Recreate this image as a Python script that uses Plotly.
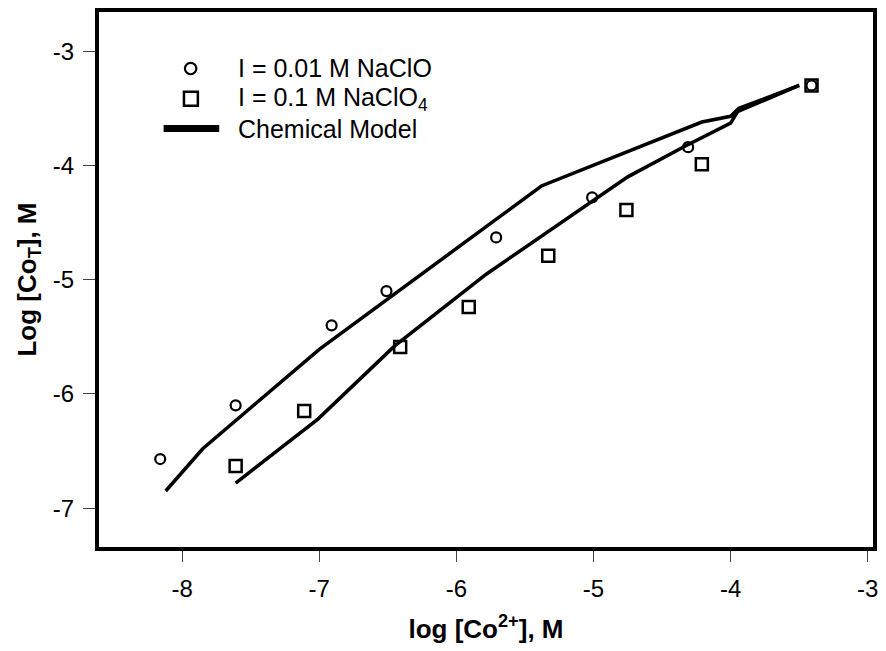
import plotly.graph_objects as go

# ---- data ----
x_i001 = [-8.16, -7.61, -6.91, -6.51, -5.71, -5.01, -4.31, -3.41]
y_i001 = [-6.57, -6.10, -5.40, -5.10, -4.63, -4.28, -3.84, -3.30]

x_i01 = [-7.61, -7.11, -6.41, -5.91, -5.33, -4.76, -4.21, -3.41]
y_i01 = [-6.63, -6.15, -5.59, -5.24, -4.79, -4.39, -3.99, -3.30]

x_model_001 = [-8.12, -7.85, -7.00, -5.38, -4.21, -4.00, -3.94, -3.50]
y_model_001 = [-6.85, -6.48, -5.61, -4.18, -3.62, -3.57, -3.50, -3.30]

x_model_01 = [-7.61, -7.01, -6.45, -5.78, -4.75, -4.33, -4.00, -3.95, -3.50]
y_model_01 = [-6.78, -6.22, -5.58, -4.95, -4.10, -3.83, -3.63, -3.53, -3.30]

x_ticks = [-8, -7, -6, -5, -4, -3]
x_ticktext = ["-8", "-7", "-6", "-5", "-4", "-3"]
y_ticks = [-7, -6, -5, -4, -3]
y_ticktext = ["-7", "-6", "-5", "-4", "-3"]

legend_labels = ["I = 0.01 M NaClO", "I = 0.1 M NaClO<sub>4</sub>", "Chemical Model"]

FONT = "Arial, 'Liberation Sans', sans-serif"

fig = go.Figure()
fig.add_trace(go.Scatter(x=x_i01, y=y_i01, mode="markers", name=legend_labels[1],
                         marker=dict(symbol="square-open", size=12, color="black",
                                     line=dict(width=2.5, color="black")),
                         showlegend=False))
fig.add_trace(go.Scatter(x=x_i001, y=y_i001, mode="markers", name=legend_labels[0],
                         marker=dict(symbol="circle-open", size=10, color="black",
                                     line=dict(width=2.2, color="black")),
                         showlegend=False))
fig.add_trace(go.Scatter(x=x_model_001, y=y_model_001, mode="lines", name=legend_labels[2],
                         line=dict(color="black", width=3.5), showlegend=False))
fig.add_trace(go.Scatter(x=x_model_01, y=y_model_01, mode="lines", name=legend_labels[2],
                         line=dict(color="black", width=3.5), showlegend=False))

# ---- manual legend (paper coordinates from pixel layout) ----
L, R, T, B = 99, 878, 10, 547
W, H = R - L, B - T
def px(x):
    return (x - L) / W
def py(y):
    return (B - y) / H

shapes = []
# circle symbol
shapes.append(dict(type="circle", xref="paper", yref="paper",
                   x0=px(185.5), x1=px(197), y0=py(72.5), y1=py(61),
                   line=dict(color="black", width=2.2)))
# square symbol
shapes.append(dict(type="rect", xref="paper", yref="paper",
                   x0=px(184.5), x1=px(198.5), y0=py(104), y1=py(90),
                   line=dict(color="black", width=2.5)))
# line symbol
shapes.append(dict(type="line", xref="paper", yref="paper",
                   x0=px(164), x1=px(220), y0=py(127), y1=py(127),
                   line=dict(color="black", width=7)))
fig.update_layout(shapes=shapes)

for lab, yy in zip(legend_labels, [66.7, 97.3, 127]):
    fig.add_annotation(xref="paper", yref="paper", x=px(237), y=py(yy),
                       text=lab, showarrow=False, xanchor="left", yanchor="middle",
                       font=dict(family=FONT, size=25, color="black"))

axis_common = dict(showline=True, mirror=True, linewidth=4, linecolor="black",
                   showgrid=False, zeroline=False, ticks="outside", tickwidth=1,
                   tickcolor="#444", tickfont=dict(family=FONT, size=24, color="black"))

fig.update_xaxes(range=[-8.6065, -2.9616], tickvals=x_ticks, ticktext=x_ticktext,
                 ticklen=11, ticklabelstandoff=6,
                 title=dict(text="<b>log [Co<sup>2+</sup>], M</b>",
                            font=dict(family=FONT, size=26, color="black"), standoff=20),
                 **axis_common)
fig.update_yaxes(range=[-7.340, -2.657], tickvals=y_ticks, ticktext=y_ticktext,
                 ticklen=12, ticklabelstandoff=4,
                 title=dict(text="<b>Log [Co<sub>T</sub>], M</b>",
                            font=dict(family=FONT, size=26, color="black"), standoff=10),
                 **axis_common)

fig.update_layout(width=886, height=651, autosize=False,
                  margin=dict(l=L, r=886 - R, t=T, b=651 - B),
                  plot_bgcolor="white", paper_bgcolor="white",
                  font=dict(family=FONT, color="black"))

fig.write_html("out.html")
